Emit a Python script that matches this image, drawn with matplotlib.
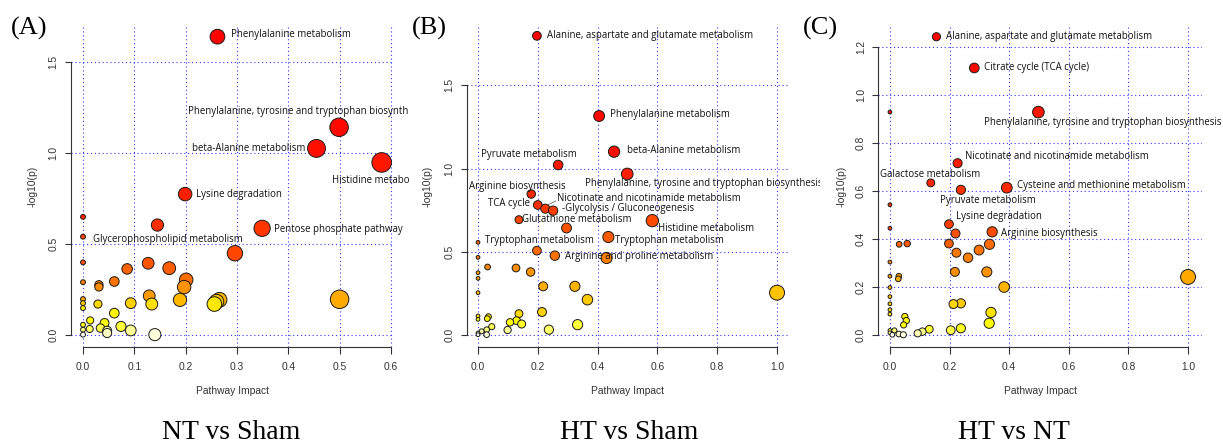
import numpy as np
import matplotlib
matplotlib.use("Agg")
import matplotlib.pyplot as plt
from matplotlib.colors import hsv_to_rgb
from matplotlib.transforms import Bbox, TransformedBbox

# ---------------- data ----------------
# Panel A : NT vs Sham
a_impact = [0.262, 0.499, 0.455, 0.582, 0.199, 0.0, 0.145, 0.349, 0.0, 0.296,
            0.0, 0.127, 0.168, 0.086, 0.201, 0.061, 0.0, 0.031, 0.031, 0.197,
            0.129, 0.0, 0.5, 0.266, 0.189, 0.26, 0.0, 0.093, 0.029, 0.134,
            0.256, 0.0, 0.061, 0.014, 0.042, 0.0, 0.074, 0.034, 0.013, 0.0,
            0.093, 0.047, 0.047, 0.14, 0.0]
a_logp = [1.641, 1.143, 1.027, 0.950, 0.776, 0.651, 0.606, 0.588, 0.542, 0.451,
          0.401, 0.396, 0.369, 0.365, 0.305, 0.296, 0.292, 0.278, 0.266, 0.265,
          0.217, 0.199, 0.198, 0.195, 0.195, 0.185, 0.177, 0.177, 0.172, 0.172,
          0.172, 0.150, 0.122, 0.082, 0.068, 0.058, 0.049, 0.040, 0.035, 0.031,
          0.027, 0.025, 0.013, 0.004, 0.004]
# labels as visible in the reference (the two right-most are cut at the panel edge)
a_names = ["Phenylalanine metabolism",
           "Phenylalanine, tyrosine and tryptophan biosynth",
           "beta-Alanine metabolism", "Histidine metabo",
           "Lysine degradation", "Pentose phosphate pathway",
           "Glycerophospholipid metabolism"]

# Panel B : HT vs Sham
b_impact = [0.197, 0.405, 0.455, 0.268, 0.499, 0.178, 0.2, 0.225, 0.251, 0.137,
            0.583, 0.296, 0.436, 0.0, 0.197, 0.257, 0.0, 0.430, 0.032, 0.127,
            0.176, 0.0, 0.0, 0.218, 0.324, 0.0, 1.0, 0.366, 0.214, 0.137,
            0.0, 0.035, 0.031, 0.0, 0.129, 0.107, 0.146, 0.333, 0.046, 0.237,
            0.029, 0.099, 0.012, 0.0, 0.029, 0.0]
b_logp = [1.797, 1.316, 1.102, 1.022, 0.968, 0.848, 0.782, 0.760, 0.748, 0.694,
          0.688, 0.644, 0.590, 0.558, 0.508, 0.478, 0.468, 0.464, 0.410, 0.404,
          0.380, 0.376, 0.342, 0.294, 0.294, 0.256, 0.256, 0.214, 0.140, 0.130,
          0.116, 0.112, 0.100, 0.096, 0.088, 0.078, 0.068, 0.064, 0.052, 0.034,
          0.034, 0.032, 0.024, 0.014, 0.004, 0.004]
b_names = ["Alanine, aspartate and glutamate metabolism",
           "Phenylalanine metabolism", "beta-Alanine metabolism",
           "Pyruvate metabolism",
           "Phenylalanine, tyrosine and tryptophan biosynthesis",
           "Arginine biosynthesis", "Nicotinate and nicotinamide metabolism",
           "TCA cycle", "-Glycolysis / Gluconeogenesis",
           "Glutathione metabolism", "Histidine metabolism",
           "Tryptophan metabolism", "Tryptophan metabolism",
           "Arginine and proline metabolism"]

# Panel C : HT vs NT
c_impact = [0.156, 0.283, 0.0, 0.498, 0.227, 0.137, 0.392, 0.238, 0.0, 0.198,
            0.0, 0.343, 0.22, 0.058, 0.198, 0.031, 0.334, 0.299, 0.223, 0.262,
            0.0, 0.218, 0.325, 0.03, 0.0, 1.0, 0.028, 0.383, 0.0, 0.0,
            0.238, 0.213, 0.0, 0.0, 0.339, 0.0, 0.05, 0.055, 0.333, 0.046,
            0.238, 0.132, 0.204, 0.0, 0.015, 0.109, 0.093, 0.0, 0.03, 0.045,
            0.008]
c_logp = [1.244, 1.114, 0.930, 0.930, 0.717, 0.635, 0.615, 0.606, 0.544, 0.463,
          0.446, 0.431, 0.424, 0.382, 0.382, 0.379, 0.379, 0.355, 0.344, 0.323,
          0.305, 0.264, 0.264, 0.246, 0.246, 0.243, 0.235, 0.201, 0.199, 0.161,
          0.133, 0.130, 0.131, 0.106, 0.095, 0.088, 0.078, 0.061, 0.050, 0.043,
          0.029, 0.025, 0.021, 0.020, 0.020, 0.015, 0.008, 0.010, 0.005, 0.002,
          0.002]
c_names = ["Alanine, aspartate and glutamate metabolism",
           "Citrate cycle (TCA cycle)",
           "Phenylalanine, tyrosine and tryptophan biosynthesis",
           "Nicotinate and nicotinamide metabolism", "Galactose metabolism",
           "Cysteine and methionine metabolism", "Pyruvate metabolism",
           "Lysine degradation", "Arginine biosynthesis"]

titles = ["NT vs Sham", "HT vs Sham", "HT vs NT"]
tags = ["(A)", "(B)", "(C)"]

# ---------------- layout (pixels / data-space label anchors) ----------------
W, H, DPI = 1223, 445, 100
layout = [
    dict(box=(70.7, 25, 394, 347), xlim=(-0.024, 0.606), ylim=(-0.064, 1.705),
         xticks=[0, 0.1, 0.2, 0.3, 0.4, 0.5, 0.6], yticks=[0, 0.5, 1.0, 1.5],
         yfmt="%.1f", clip=(0, 409), tag_x=11, title_x=231, ylab_x=33,
         lab_xy=[(0.288, 1.654, "left"), (0.205, 1.232, "left"),
                 (0.4325, 1.027, "right"), (0.4845, 0.853, "left"),
                 (0.2196, 0.776, "left"), (0.3727, 0.584, "left"),
                 (0.019, 0.529, "left")]),
    dict(box=(466.7, 25, 789, 347), xlim=(-0.0378, 1.040), ylim=(-0.070, 1.862),
         xticks=[0, 0.2, 0.4, 0.6, 0.8, 1.0], yticks=[0, 0.5, 1.0, 1.5],
         yfmt="%.1f", clip=(409, 820), tag_x=412, title_x=629, ylab_x=428,
         lab_xy=[(0.2298, 1.797, "left"), (0.4415, 1.322, "left"),
                 (0.4973, 1.108, "left"), (0.010, 1.086, "left"),
                 (0.358, 0.912, "left"), (-0.030, 0.896, "left"),
                 (0.263, 0.824, "left"), (0.034, 0.792, "left"),
                 (0.280, 0.762, "left"), (0.148, 0.698, "left"),
                 (0.603, 0.640, "left"), (0.0234, 0.572, "left"),
                 (0.458, 0.572, "left"), (0.291, 0.472, "left")]),
    dict(box=(878.3, 25, 1201.7, 347), xlim=(-0.039, 1.0458), ylim=(-0.049, 1.293),
         xticks=[0, 0.2, 0.4, 0.6, 0.8, 1.0], yticks=[0, 0.2, 0.4, 0.6, 0.8, 1.0, 1.2],
         yfmt="%.1f", clip=(820, 1223), tag_x=803, title_x=1014, ylab_x=842,
         lab_xy=[(0.187, 1.246, "left"), (0.314, 1.114, "left"),
                 (0.314, 0.885, "left"), (0.251, 0.746, "left"),
                 (-0.033, 0.672, "left"), (0.426, 0.623, "left"),
                 (0.167, 0.561, "left"), (0.220, 0.494, "left"),
                 (0.3736, 0.426, "left")]),
]


def heat_colors(n):
    j = n // 4
    i = n - j
    cols = [hsv_to_rgb((h, 1.0, 1.0)) for h in np.linspace(0, 1 / 6, i)]
    if j > 0:
        cols += [hsv_to_rgb((1 / 6, s, 1.0))
                 for s in np.linspace(1 - 1 / (2 * j), 1 / (2 * j), j)]
    return cols


fig = plt.figure(figsize=(W / DPI, H / DPI), dpi=DPI)
fig.patch.set_facecolor("white")

LABFONT = ["Open Sans", "DejaVu Sans"]
AXFONT = ["Liberation Sans", "DejaVu Sans"]
SERIF = ["Liberation Serif", "DejaVu Serif"]
GRID = "#3333ff"
AXCOL = "#333333"

panels = [(a_impact, a_logp, a_names), (b_impact, b_logp, b_names),
          (c_impact, c_logp, c_names)]

for k, ((imp, lp, names), L) in enumerate(zip(panels, layout)):
    l, t, r, b = L["box"]
    ax = fig.add_axes([l / W, 1 - b / H, (r - l) / W, (b - t) / H])
    ax.set_xlim(*L["xlim"])
    ax.set_ylim(*L["ylim"])
    ax.patch.set_alpha(0)
    for s in ("top", "right"):
        ax.spines[s].set_visible(False)
    for s in ("left", "bottom"):
        ax.spines[s].set_color(AXCOL)
        ax.spines[s].set_linewidth(0.8)
    ax.spines["bottom"].set_bounds(L["xticks"][0], L["xticks"][-1])
    ax.spines["left"].set_bounds(L["yticks"][0], L["yticks"][-1])
    ax.set_xticks(L["xticks"])
    ax.set_yticks(L["yticks"])
    ax.set_xticklabels(["%.1f" % v for v in L["xticks"]], fontfamily=AXFONT,
                       fontsize=7.4, color=AXCOL)
    ax.set_yticklabels([L["yfmt"] % v for v in L["yticks"]], fontfamily=AXFONT,
                       fontsize=7.4, color=AXCOL, rotation=90, va="center")
    ax.tick_params(axis="x", length=5, width=0.8, color=AXCOL, pad=6)
    ax.tick_params(axis="y", length=4.5, width=0.8, color=AXCOL, pad=4.5)
    ax.set_axisbelow(True)
    ax.grid(True, color=GRID, linestyle=(0, (1, 2.5)), linewidth=0.8)

    imp = np.asarray(imp, float)
    lp = np.asarray(lp, float)
    n = len(imp)
    order = np.argsort(-lp, kind="stable")
    cols = heat_colors(n)
    sq = np.sqrt(imp)
    mn, mx = sq.min(), sq.max()
    maxR = (mx - mn) / 40
    minR = (mx - mn) / 160
    rad = minR + (maxR - minR) * (sq - mn) / (mx - mn)   # x-data units
    px_per_x = (r - l) / (L["xlim"][1] - L["xlim"][0])
    diam_pt = 2 * rad * px_per_x * 72 / DPI
    ax.scatter(imp[order], lp[order], s=(diam_pt[order]) ** 2,
               c=[cols[i] for i in range(n)], edgecolors="#1a1a1a",
               linewidths=0.7, zorder=3, clip_on=False)

    clipbox = TransformedBbox(Bbox.from_extents(L["clip"][0] / W, 0,
                                                L["clip"][1] / W, 1),
                              fig.transFigure)
    for name, (lx, ly, ha) in zip(names, L["lab_xy"]):
        txt = ax.text(lx, ly, name, ha=ha, va="center", fontsize=6.9,
                      fontfamily=LABFONT, color="#111111", zorder=5)
        txt.set_clip_on(True)
        txt.set_clip_box(clipbox)

    if k == 1:
        ax.plot([0.233, 0.260], [0.782, 0.806], color="#555555", lw=0.5, zorder=4)

    fig.text(L["tag_x"] / W, 1 - 34.5 / H, tags[k], fontfamily=SERIF,
             fontsize=19, ha="left", va="baseline", color="black")
    fig.text(L["title_x"] / W, 1 - 439 / H, titles[k], fontfamily=SERIF,
             fontsize=20, ha="center", va="baseline", color="black")
    fig.text((l + r) / 2 / W, 1 - 391 / H, "Pathway Impact", fontfamily=AXFONT,
             fontsize=7.4, ha="center", va="center", color=AXCOL)
    fig.text(L["ylab_x"] / W, 1 - (t + b) / 2 / H, "-log10(p)",
             fontfamily=AXFONT, fontsize=7.4, ha="center", va="center",
             rotation=90, color=AXCOL)

fig.savefig("out.png", dpi=DPI, facecolor="white")
